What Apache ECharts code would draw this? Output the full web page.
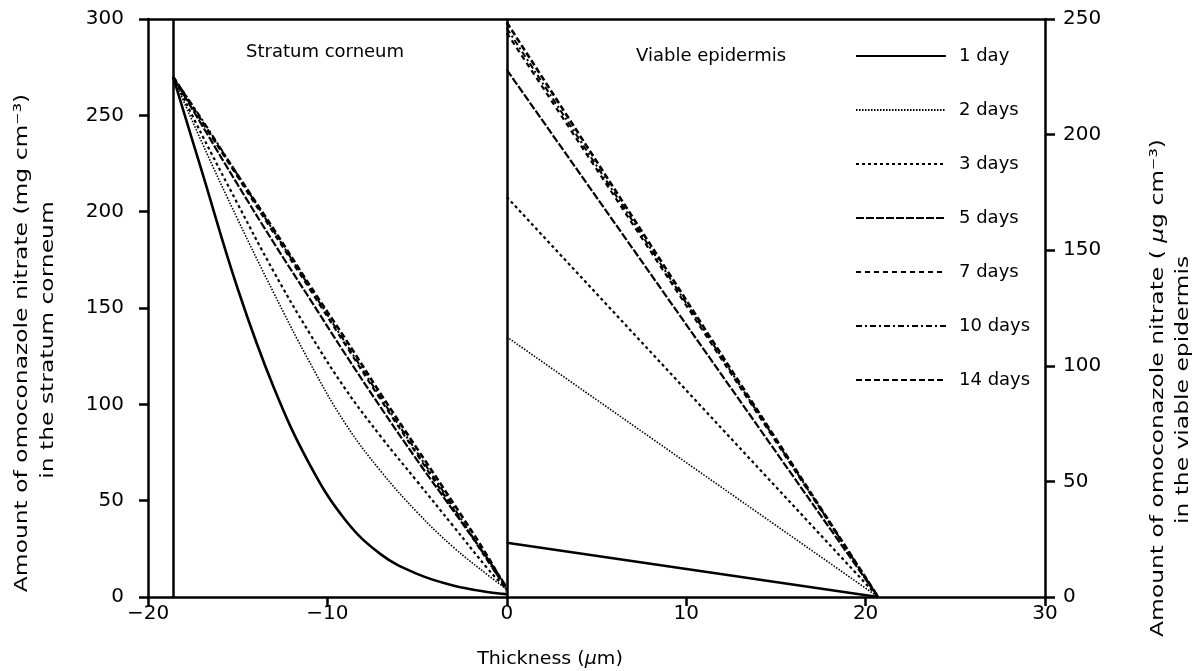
<!DOCTYPE html>
<html>
<head>
    <meta charset="utf-8">
    <script src="https://cdn.jsdelivr.net/npm/echarts@6/dist/echarts.min.js"></script>
</head>
<style>
    body { margin: 0; background: #fff; }
    #main { width: 1199px; height: 671px; }
</style>
<body>
<div id="main"></div>
<script>
    // stratum corneum, left axis (mg cm-3)
    var scX = [-18.6, -17, -15, -13, -11, -9, -7, -5, -3, -1, 0];
    var sc1 = [270, 221, 160, 109, 69, 40, 22, 12, 6, 2.5, 1.5];
    var sc2 = [270, 236, 196, 158, 122, 90, 65, 44, 26, 11, 4];
    var sc3 = [270, 240, 204, 169, 137, 108, 83, 60, 37, 14, 4];
    var sc5 = [270, 245, 214, 184, 155, 126, 98, 71, 45, 19, 5];
    var sc7 = [270, 247, 218, 189, 160, 131, 102, 74, 46, 18, 4];
    var sc10 = [270, 248, 219, 190, 161, 132, 103, 75, 47, 18, 4];
    var sc14 = [270, 247, 219, 191, 162, 134, 105, 77, 49, 20, 3];

    // viable epidermis, right axis (ug cm-3)
    var veX = [0, 20.7];
    var veStart = [23.5, 112.5, 173, 228, 244, 246, 248.5];
    var veEnd = [0, 0, 0, 0, 0, 0, 0];

    var days = ['1 day', '2 days', '3 days', '5 days', '7 days', '10 days', '14 days'];
    var scData = [sc1, sc2, sc3, sc5, sc7, sc10, sc14];
    var boundaries = [-18.6, 0];

    var styles = [
        {type: 'solid', width: 2.6},
        {type: [1.5, 1.5], width: 1.6},
        {type: [3, 3], width: 2.2},
        {type: [8, 2], width: 2.2},
        {type: [5, 4], width: 2.2},
        {type: [6, 3, 2, 3], width: 2},
        {type: [6, 3], width: 2.6}
    ];

    var FONT = 'DejaVu Sans';

    function pairs(xs, ys) {
        var out = [];
        for (var i = 0; i < xs.length; i++) out.push([xs[i], ys[i]]);
        return out;
    }

    var series = [];
    for (var k = 0; k < days.length; k++) {
        var ls = {color: '#000', type: styles[k].type, width: styles[k].width};
        var s = {
            name: days[k],
            type: 'line',
            xAxisIndex: 0,
            yAxisIndex: 0,
            smooth: 0.4,
            symbol: 'none',
            itemStyle: {color: '#000'},
            lineStyle: ls,
            data: pairs(scX, scData[k])
        };
        if (k == 0) {
            s.markLine = {
                silent: true,
                symbol: ['none', 'none'],
                label: {show: false},
                lineStyle: {color: '#000', type: 'solid', width: 2.5},
                data: boundaries.map(function (b) { return {xAxis: b}; })
            };
        }
        series.push(s);
        series.push({
            name: days[k],
            type: 'line',
            xAxisIndex: 0,
            yAxisIndex: 1,
            symbol: 'none',
            itemStyle: {color: '#000'},
            lineStyle: ls,
            data: [[veX[0], veStart[k]], [veX[1], veEnd[k]]]
        });
    }

    var axisLine = {show: true, onZero: false, lineStyle: {color: '#000', width: 2.5}};
    var label = {color: '#000', fontFamily: FONT, fontSize: 20};
    function minus(v) { return v < 0 ? '\u2212' + (-v) : '' + v; }

    var chart = echarts.init(document.getElementById('main'));
    chart.setOption({
        animation: false,
        backgroundColor: '#fff',
        grid: {left: 148, right: 154, top: 19, bottom: 74},
        legend: {
            orient: 'vertical',
            left: 850,
            top: 42,
            itemWidth: 90,
            itemHeight: 14,
            itemGap: 36,
            data: days,
            itemStyle: {opacity: 0},
            textStyle: {color: '#000', fontFamily: FONT, fontSize: 18, padding: [0, 0, 0, 8]}
        },
        xAxis: [{
            type: 'value', min: -20, max: 30, interval: 10,
            axisLine: axisLine,
            axisTick: {show: true, inside: false, length: 9, lineStyle: {color: '#000', width: 2.5}},
            axisLabel: Object.assign({margin: 7, formatter: minus}, label),
            splitLine: {show: false}
        }, {
            type: 'value', min: -20, max: 30, position: 'top',
            axisLine: axisLine,
            axisTick: {show: false},
            axisLabel: {show: false},
            splitLine: {show: false}
        }],
        yAxis: [{
            type: 'value', min: 0, max: 300, interval: 50, position: 'left',
            axisLine: axisLine,
            axisTick: {show: true, length: 9, lineStyle: {color: '#000', width: 2.5}},
            axisLabel: Object.assign({margin: 24}, label),
            splitLine: {show: false}
        }, {
            type: 'value', min: 0, max: 250, interval: 50, position: 'right',
            axisLine: axisLine,
            axisTick: {show: true, length: 10, lineStyle: {color: '#000', width: 2.5}},
            axisLabel: Object.assign({margin: 18}, label),
            splitLine: {show: false}
        }],
        graphic: [
            {type: 'text', left: 246, top: 43, style: {text: 'Stratum corneum', font: '18px ' + FONT, fill: '#000'}},
            {type: 'text', left: 636, top: 47, style: {text: 'Viable epidermis', font: '18px ' + FONT, fill: '#000'}},
            {type: 'text', x: 550, y: 660, scaleX: 1.12, style: {
                text: 'Thickness ({i|\u03bc}m)', font: '17px ' + FONT, fill: '#000',
                textAlign: 'center', textVerticalAlign: 'middle',
                rich: {i: {fontStyle: 'italic', fontFamily: FONT, fontSize: 17}}
            }},
            {type: 'text', x: 22, y: 343, rotation: Math.PI / 2, scaleX: 1.3, style: {
                text: 'Amount of omoconazole nitrate (mg cm\u207b\u00b3)', font: '18px ' + FONT, fill: '#000',
                textAlign: 'center', textVerticalAlign: 'middle'
            }},
            {type: 'text', x: 48, y: 340, rotation: Math.PI / 2, scaleX: 1.3, style: {
                text: 'in the stratum corneum', font: '18px ' + FONT, fill: '#000',
                textAlign: 'center', textVerticalAlign: 'middle'
            }},
            {type: 'text', x: 1158, y: 388, rotation: Math.PI / 2, scaleX: 1.3, style: {
                text: 'Amount of omoconazole nitrate ( {i|\u03bc}g cm\u207b\u00b3)', font: '18px ' + FONT, fill: '#000',
                textAlign: 'center', textVerticalAlign: 'middle',
                rich: {i: {fontStyle: 'italic', fontFamily: FONT, fontSize: 18}}
            }},
            {type: 'text', x: 1183, y: 390, rotation: Math.PI / 2, scaleX: 1.3, style: {
                text: 'in the viable epidermis', font: '18px ' + FONT, fill: '#000',
                textAlign: 'center', textVerticalAlign: 'middle'
            }}
        ],
        series: series
    });
</script>
</body>
</html>
